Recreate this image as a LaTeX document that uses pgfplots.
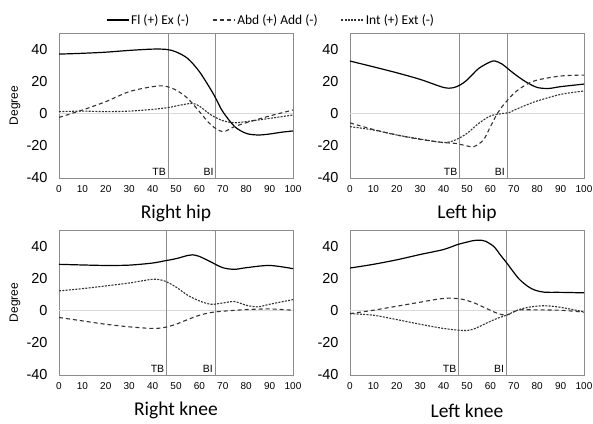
\documentclass[border=0pt]{standalone}
\usepackage{pgfplots}
\pgfplotsset{compat=1.18}
\usepackage{fontspec}
\setmainfont{Carlito}
\newfontfamily\arial{Liberation Sans}

\definecolor{axgray}{HTML}{8C8C8C}
\definecolor{lngray}{HTML}{333333}

\pgfplotsset{
  panel/.style={
    scale only axis, width=234pt, height=145pt,
    xmin=0, xmax=100, ymin=-40, ymax=50,
    xtick={0,10,...,100}, ytick={-40,-20,0,20,40},
    major tick length=0pt,
    axis line style={axgray, line width=0.8pt},
    /pgf/number format/assume math mode=true,
    xticklabel style={font=\arial\fontsize{10}{10}\selectfont, yshift=-4pt},
    yticklabel style={font=\arial\fontsize{14.5}{14.5}\selectfont, xshift=-8pt},
    xlabel style={font=\fontsize{19.5}{20}\selectfont, at={(axis description cs:0.5,-0.245)}, anchor=center},
    ylabel style={font=\arial\fontsize{12}{12}\selectfont, at={(axis description cs:-0.188,0.5)}, anchor=center},
    clip=false,
  },
  fl/.style={black, line width=1.2pt, smooth},
  ab/.style={lngray, line width=1.1pt, dash pattern=on 4pt off 3pt, smooth},
  in/.style={lngray, line width=1.1pt, dash pattern=on 2pt off 1.3pt, smooth},
  refl/.style={axgray, line width=0.8pt, forget plot},
  zl/.style={gray!30, line width=1.2pt, forget plot},
}
\newcommand{\phasemarks}[2]{%
  \addplot[zl] coordinates {(0,0) (100,0)};
  \addplot[refl] coordinates {(#1,-40) (#1,50)};
  \addplot[refl] coordinates {(#2,-40) (#2,50)};
  \node[font=\arial\fontsize{10.5}{10.5}\selectfont, anchor=south east, inner sep=2pt] at (axis cs:#1,-40) {TB};
  \node[font=\arial\fontsize{10.5}{10.5}\selectfont, anchor=south east, inner sep=2pt] at (axis cs:#2,-40) {BI};
}

\begin{document}
\begin{tikzpicture}
\useasboundingbox (0pt,0pt) rectangle (593pt,423pt);

% Right hip
\begin{axis}[panel, at={(59pt,245pt)}, anchor=south west,
  xlabel={Right hip}, ylabel={Degree},
  legend columns=3,
  legend style={draw=none, fill=none, font=\fontsize{13.5}{13.5}\selectfont,
    at={(axis description cs:0.906,1.09)}, anchor=center,
    /tikz/every even column/.append style={column sep=21pt}},
  legend image code/.code={\draw[#1] (0pt,0pt) -- (22pt,0pt);}]
\phasemarks{46.6}{67}
\addplot[fl] coordinates {(0,36.9) (10,37.4) (20,38.1) (30,39.2) (40,40) (46,39.8) (50,38.3) (55,34.2) (60,26) (65,14.6) (67,9.4) (70,1.2) (75,-8) (80,-12.3) (85,-13.3) (90,-12.7) (95,-11.6) (100,-10.8)};
\addplot[ab] coordinates {(0,-2.4) (10,2.2) (20,7.4) (30,13.6) (40,16.7) (45,17.1) (50,14.6) (55,9.4) (60,1.2) (65,-7.1) (70,-11.2) (75,-8.1) (80,-5.7) (90,-1.5) (100,2.2)};
\addplot[in] coordinates {(0,1.2) (10,1.5) (20,1.2) (30,1.5) (40,2.6) (47,3.8) (52,5.3) (57,6.3) (60,4.6) (65,-0.9) (70,-4.4) (75,-5.7) (80,-5) (90,-3) (100,-0.9)};
\legend{Fl (+) Ex (-), Abd (+) Add (-), Int (+) Ext (-)}
\end{axis}

% Left hip
\begin{axis}[panel, at={(350pt,245pt)}, anchor=south west, xlabel={Left hip}]
\phasemarks{46.8}{67.1}
\addplot[fl] coordinates {(0,32.6) (10,29) (20,25.3) (30,21.2) (40,16.2) (44,16) (47,17.7) (50,20.8) (55,28) (60,32.1) (62,32.6) (65,30.7) (70,24.9) (75,19.8) (80,16.2) (85,15.6) (90,16.7) (100,18.3)};
\addplot[ab] coordinates {(0,-5.8) (10,-9.9) (20,-13.3) (30,-16) (40,-18) (45,-18.5) (50,-20.1) (53,-20.5) (57,-16.4) (60,-8.1) (63,0.2) (65,4.3) (70,12.5) (75,17.7) (80,20.8) (90,23.3) (100,23.9)};
\addplot[in] coordinates {(0,-8.1) (10,-10.2) (20,-13.3) (30,-15.8) (40,-18) (45,-16.4) (50,-12.3) (55,-6.1) (60,-1.5) (65,0) (68,0.6) (70,2) (75,5.1) (80,7.8) (90,11.9) (100,14)};
\end{axis}

% Right knee
\begin{axis}[panel, at={(59pt,48pt)}, anchor=south west, xlabel={Right knee}, ylabel={Degree}]
\phasemarks{45.9}{66.7}
\addplot[fl] coordinates {(0,28.7) (10,28.3) (20,28) (30,28.2) (40,29.5) (46,31.1) (50,32.2) (55,34.2) (57,34.6) (60,33.6) (65,30.1) (70,26.6) (75,25.6) (80,26.6) (90,28) (100,26)};
\addplot[ab] coordinates {(0,-4.3) (10,-6.4) (20,-8.5) (30,-10.1) (40,-11.1) (45,-10.5) (50,-8.5) (55,-5.6) (60,-2.9) (65,-1.2) (70,-0.4) (80,0.6) (90,1) (100,0.2)};
\addplot[in] coordinates {(0,12.2) (10,13.6) (20,15.3) (30,17.1) (40,19.4) (45,18.4) (50,14.6) (55,9.5) (60,6) (65,3.9) (70,4.7) (75,5.6) (80,3.3) (85,2.3) (90,3.9) (100,6.8)};
\end{axis}

% Left knee
\begin{axis}[panel, at={(350pt,48pt)}, anchor=south west, xlabel={Left knee}]
\phasemarks{46.4}{66.8}
\addplot[fl] coordinates {(0,26.4) (10,28.7) (20,31.5) (30,34.8) (40,37.9) (46,41) (50,42.5) (53,43.5) (56,43.7) (58,43) (61.6,39.6) (64,35) (67,29.5) (72,20) (76,15) (79,12.7) (83,11.4) (90,11.3) (100,11)};
\addplot[ab] coordinates {(0,-1.9) (10,0.2) (20,2.7) (30,5.2) (38,7.2) (43,7.7) (48,7) (53,4.8) (58,1.5) (63,-1.7) (67,-2.8) (72,0.3) (80,0.4) (90,0.2) (100,-1)};
\addplot[in] coordinates {(0,-1.9) (10,-2.9) (20,-5.6) (30,-8.5) (40,-11.1) (48.7,-12.4) (53,-11.4) (58,-8) (63,-4.8) (67,-2.8) (72,0.5) (77,2.2) (83,3) (90,2) (100,-0.8)};
\end{axis}
\end{tikzpicture}
\end{document}
